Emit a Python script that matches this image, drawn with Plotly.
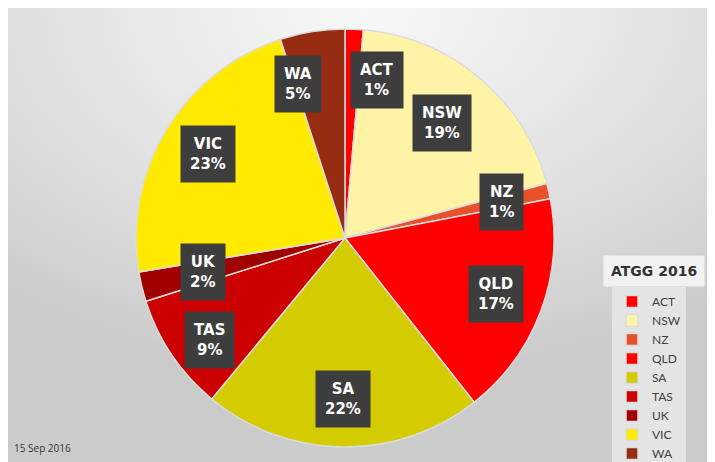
import math, base64
import plotly.graph_objects as go

# ---- data ----
regions = ["ACT", "NSW", "NZ", "QLD", "SA", "TAS", "UK", "VIC", "WA"]
shares = [1.4, 19.4, 1.2, 17.4, 21.6, 9.1, 2.3, 22.6, 5.0]
chart_title = "ATGG 2016"
date_note = "15 Sep 2016"

# ---- styles ----
colors = ["#ff0000", "#fff3a6", "#e8512a", "#ff0000", "#d4cb00",
          "#cc0000", "#a10000", "#ffea00", "#982c12"]
label_angle_shift = {"ACT": 9, "WA": -8, "TAS": -3}
label_radius = {"UK": 0.70, "NSW": 0.72, "TAS": 0.81}
W, H = 715, 462
cx, cy_top, R = 337, 230, 209

svg = f'''<svg xmlns="http://www.w3.org/2000/svg" width="{W}" height="{H}">
<defs><radialGradient id="g" cx="0.5" cy="0.0" r="0.8" gradientUnits="objectBoundingBox">
<stop offset="0" stop-color="#f8f8f8"/><stop offset="0.6" stop-color="#e0e0e0"/><stop offset="1" stop-color="#cbcbcb"/>
</radialGradient></defs><rect width="100%" height="100%" fill="url(#g)"/></svg>'''
bg_src = "data:image/svg+xml;base64," + base64.b64encode(svg.encode()).decode()

fig = go.Figure()
fig.add_trace(go.Pie(
    labels=regions, values=shares, sort=False, direction="clockwise", rotation=0,
    marker=dict(colors=colors, line=dict(color="#dcdcdc", width=1.5)),
    textinfo="none", hoverinfo="label+percent",
    domain=dict(x=[(cx - R) / W, (cx + R) / W],
                y=[(H - cy_top - R) / H, (H - cy_top + R) / H]),
))

# label boxes positioned from the data (mid-angle of each slice)
total = sum(shares)
cum = 0
annotations = []
for name, v in zip(regions, shares):
    pct = v / total
    mid = (cum + pct / 2) * 360 + label_angle_shift.get(name, 0)
    cum += pct
    r = label_radius.get(name, 0.77) * R
    px = cx + r * math.sin(math.radians(mid))
    py = (H - cy_top) + r * math.cos(math.radians(mid))
    annotations.append(dict(
        x=px / W, y=py / H, xref="paper", yref="paper", showarrow=False,
        xanchor="center", yanchor="middle",
        text=f"{name}<br>{round(pct * 100)}%",
        font=dict(family="DejaVu Sans", size=15, color="white", weight="bold"),
        bgcolor="#3d3d3d", borderpad=9, align="center",
    ))

annotations.append(dict(
    x=646 / W, y=1 - 263 / H, xref="paper", yref="paper", showarrow=False,
    text=f"<b>{chart_title}</b>", font=dict(family="DejaVu Sans", size=14, color="#333333"),
    bgcolor="#f2f2f2", borderpad=7, xanchor="center", yanchor="middle",
))
annotations.append(dict(
    x=4 / W, y=1 - 440 / H, xref="paper", yref="paper", showarrow=False,
    text=date_note, font=dict(family="Open Sans", size=10, color="#333333"),
    xanchor="left", yanchor="middle",
))

fig.update_layout(
    width=W, height=H, margin=dict(l=0, r=0, t=0, b=0, autoexpand=False),
    paper_bgcolor="#dddddd", plot_bgcolor="#dddddd",
    images=[dict(source=bg_src, xref="paper", yref="paper", x=0, y=1,
                 sizex=1, sizey=1, sizing="stretch",
                 xanchor="left", yanchor="top", layer="below")],
    annotations=annotations,
    showlegend=True,
    legend=dict(x=604 / W, y=1 - 279 / H, xanchor="left", yanchor="top",
                bgcolor="#e4e4e4", font=dict(family="Lato", size=12, color="#404040"),
                traceorder="normal", itemwidth=30),
)

fig.write_html("out.html")
